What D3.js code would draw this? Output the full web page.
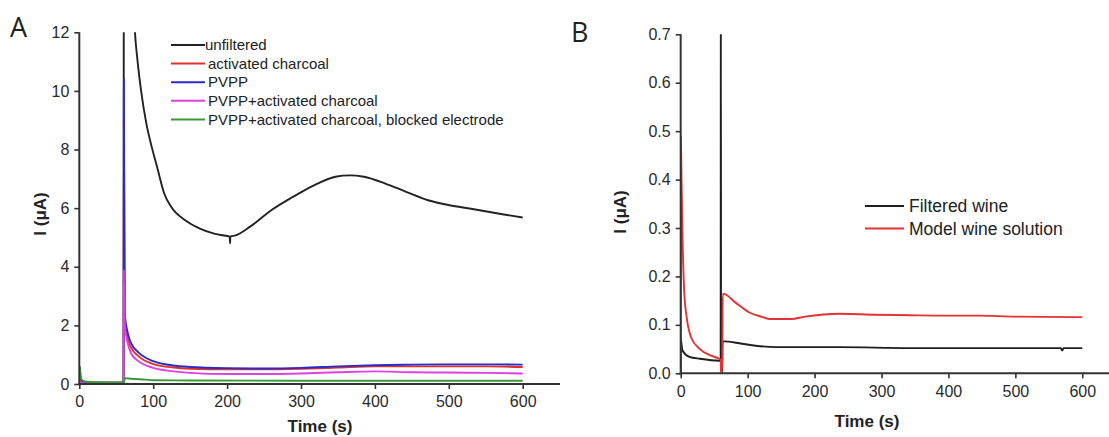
<!DOCTYPE html>
<html><head><meta charset="utf-8">
<script src="https://cdn.jsdelivr.net/npm/d3@7"></script>
<style>
html,body{margin:0;padding:0;background:#fff;}
svg{display:block;font-family:"Liberation Sans",Arial,sans-serif;}
</style></head>
<body><svg id="c" width="1109" height="437"></svg>
<script>
// ---------- Panel A data: [time (s), current (uA)] ----------
const unfiltered = [[0,0.05],[0.5,0.6],[2,0.15],[8,0.07],[30,0.05],[59.5,0.05],[60,0.05],[60.4,30],[68,17],[75.3,12.0],[78.7,11.05],[83.5,10.03],[90.7,8.89],[98,8.09],[105.2,7.41],[114.9,6.5],[124.5,6.04],[143.8,5.58],[163.2,5.3],[182.5,5.13],[201.8,5.04],[203.6,5.03],[204,4.8],[204.4,5.03],[211.4,5.07],[230.7,5.36],[259.7,5.93],[288.7,6.38],[317.6,6.78],[346.6,7.07],[365.9,7.12],[385.2,7.07],[414.1,6.84],[443.1,6.55],[472.1,6.27],[501,6.1],[530,5.98],[568.6,5.81],[600,5.68]];
const activatedCharcoal = [[0,0.3],[1,0.1],[5,0.04],[30,0.03],[59.5,0.03],[60,0.03],[60.3,9],[61.5,2.2],[65,1.6],[70,1.25],[80,0.95],[100,0.68],[125,0.57],[150,0.52],[200,0.5],[250,0.5],[300,0.52],[350,0.56],[400,0.6],[450,0.6],[500,0.6],[550,0.6],[600,0.58]];
const pvpp = [[0,0.2],[1,0.08],[5,0.04],[30,0.03],[59.5,0.03],[60,0.03],[60.3,10.4],[61.5,2.4],[65,1.8],[70,1.4],[80,1.08],[100,0.78],[125,0.64],[150,0.58],[200,0.54],[250,0.53],[300,0.55],[350,0.6],[400,0.64],[450,0.66],[500,0.67],[550,0.67],[600,0.66]];
const pvppCharcoal = [[0,0.15],[2,0.05],[10,0.02],[59.5,0.02],[60,0.02],[60.3,3.9],[61.5,2.0],[65,1.45],[70,1.05],[80,0.78],[100,0.55],[125,0.44],[150,0.38],[200,0.34],[250,0.34],[300,0.36],[350,0.4],[400,0.43],[450,0.4],[500,0.39],[550,0.38],[600,0.36]];
const pvppCharcoalBlocked = [[0,0.1],[0.5,0.6],[2,0.2],[6,0.1],[20,0.06],[59.5,0.04],[60,0.04],[62,0.2],[70,0.18],[90,0.15],[100,0.13],[150,0.12],[300,0.11],[600,0.11]];
const seriesA = [
  {name:"unfiltered", color:"#222222", data:unfiltered},
  {name:"activated charcoal", color:"#e0302a", data:activatedCharcoal},
  {name:"PVPP", color:"#2b2bc8", data:pvpp},
  {name:"PVPP+activated charcoal", color:"#e040e0", data:pvppCharcoal},
  {name:"PVPP+activated charcoal, blocked electrode", color:"#3a983a", data:pvppCharcoalBlocked}
];
const xTicksA = [0,100,200,300,400,500,600];
const yTicksA = [0,2,4,6,8,10,12];

// ---------- Panel B data ----------
const filteredWine = [[0,0.0],[0.2,0.07],[2.6,0.047],[13,0.034],[28.7,0.03],[57.5,0.026],[59.7,0.026],[60,0.75],[60.3,0.0],[62,0.0],[62.5,0.066],[64.3,0.066],[91.5,0.061],[112,0.057],[143.7,0.054],[237.8,0.054],[342,0.052],[447,0.052],[568,0.052],[570,0.047],[572,0.052],[600,0.052]];
const modelWine = [[0,0.0],[0.3,0.49],[1.2,0.4],[2.6,0.29],[5.2,0.17],[8.9,0.116],[15.7,0.074],[28.7,0.05],[44.4,0.037],[57.5,0.03],[59.7,0.028],[60.2,0.0],[62,0.0],[62.8,0.164],[64.3,0.164],[81,0.147],[101.9,0.126],[122.8,0.116],[133.3,0.112],[164.6,0.112],[185.5,0.117],[237.8,0.123],[290,0.121],[342.3,0.12],[394.6,0.119],[446.9,0.119],[499.1,0.117],[600,0.116]];
const seriesB = [
  {name:"Filtered wine", color:"#1e1e1e", data:filteredWine},
  {name:"Model wine solution", color:"#e03333", data:modelWine}
];
const xTicksB = [0,100,200,300,400,500,600];
const yTicksB = [0,0.1,0.2,0.3,0.4,0.5,0.6,0.7];

const svg = d3.select("#c");
const AX = "#333";

function panel(o){
  const g = svg.append("g");
  const x = d3.scaleLinear().domain(o.xDomain).range(o.xRange);
  const y = d3.scaleLinear().domain(o.yDomain).range(o.yRange);
  const clipId = "clip"+o.id;
  svg.append("clipPath").attr("id",clipId).append("rect")
    .attr("x",x(0)).attr("y",o.yRange[1]).attr("width",o.xRange[1]-x(0)).attr("height",o.yRange[0]-o.yRange[1]);
  const line = d3.line().x(d=>x(d[0])).y(d=>y(d[1])).curve(d3.curveMonotoneX);
  const lg = g.append("g").attr("clip-path",`url(#${clipId})`);
  o.series.forEach(s=>{
    lg.append("path").attr("d",line(s.data)).attr("fill","none")
      .attr("stroke",s.color).attr("stroke-width",1.9).attr("stroke-linejoin","round");
  });
  // x axis
  const xa = g.append("g").attr("transform",`translate(0,${o.yRange[0]})`);
  xa.call(d3.axisBottom(x).tickValues(o.xMinor).tickSize(3).tickFormat(""));
  xa.call(d3.axisBottom(x).tickValues(o.xTicks).tickSize(5).tickPadding(7).tickFormat(d3.format("d")));
  xa.selectAll(".domain").remove();
  xa.append("line").attr("x1",x(0)-1).attr("x2",o.xAxisEnd).attr("stroke",AX).attr("stroke-width",2);
  // y axis
  const ya = g.append("g").attr("transform",`translate(${x(0)},0)`);
  ya.call(d3.axisLeft(y).tickValues(o.yMinor).tickSize(3).tickFormat(""));
  ya.call(d3.axisLeft(y).tickValues(o.yTicks).tickSize(5).tickPadding(5).tickFormat(o.yFmt));
  ya.selectAll(".domain").remove();
  ya.append("line").attr("y1",o.yRange[0]+1).attr("y2",o.yRange[1]).attr("stroke",AX).attr("stroke-width",2);
  [xa,ya].forEach(a=>{
    a.selectAll(".tick line").attr("stroke",AX).attr("stroke-width",1.6);
    a.selectAll(".tick text").attr("fill","#2a2a2a").attr("font-size","16px").attr("font-family","Liberation Sans, Arial, sans-serif");
  });
  // titles
  g.append("text").attr("x",o.xTitle[0]).attr("y",o.xTitle[1]).attr("text-anchor","middle")
    .attr("font-size","17px").attr("font-weight","bold").attr("fill","#222").text("Time (s)");
  g.append("text").attr("transform",`translate(${o.yTitle[0]},${o.yTitle[1]}) rotate(-90)`).attr("text-anchor","middle")
    .attr("font-size","17px").attr("font-weight","bold").attr("fill","#222").text("I (\u03bcA)");
  g.append("text").attr("x",o.label[0]).attr("y",o.label[1]).attr("font-size","27px")
    .attr("font-family","Open Sans, sans-serif").attr("fill","#222").text(o.id);
  // legend
  o.series.forEach((s,i)=>{
    const yy = o.leg.y + i*o.leg.dy;
    g.append("line").attr("x1",o.leg.x1).attr("x2",o.leg.x2).attr("y1",yy).attr("y2",yy)
      .attr("stroke",s.color).attr("stroke-width",2);
    g.append("text").attr("x",(i===0&&o.leg.firstX)?o.leg.firstX:o.leg.tx).attr("y",yy).attr("dy","0.35em")
      .attr("font-size",o.leg.fs).attr("fill","#222").text(s.name);
  });
}

panel({id:"A", series:seriesA, xDomain:[0,650], xRange:[79.3,79.3+650*0.739], yDomain:[0,12], yRange:[384,32.3],
  xTicks:xTicksA, xMinor:d3.range(50,651,100), yTicks:yTicksA, yMinor:d3.range(1,12,2), yFmt:d3.format("d"),
  xAxisEnd:560, xTitle:[320,432], yTitle:[46,214], label:[10,37],
  leg:{x1:171,x2:205,tx:208,firstX:205,y:45,dy:18.6,fs:"15px"}});

panel({id:"B", series:seriesB, xDomain:[0,650], xRange:[680.7,680.7+650*0.6693], yDomain:[0,0.7], yRange:[373.3,34.3],
  xTicks:xTicksB, xMinor:d3.range(50,651,100), yTicks:yTicksB, yMinor:d3.range(0.05,0.7,0.1), yFmt:d3.format(".1f"),
  xAxisEnd:1109, xTitle:[867,427], yTitle:[626,212], label:[571,42],
  leg:{x1:865,x2:904,tx:909,y:206,dy:22.6,fs:"17.5px"}});
</script></body></html>
